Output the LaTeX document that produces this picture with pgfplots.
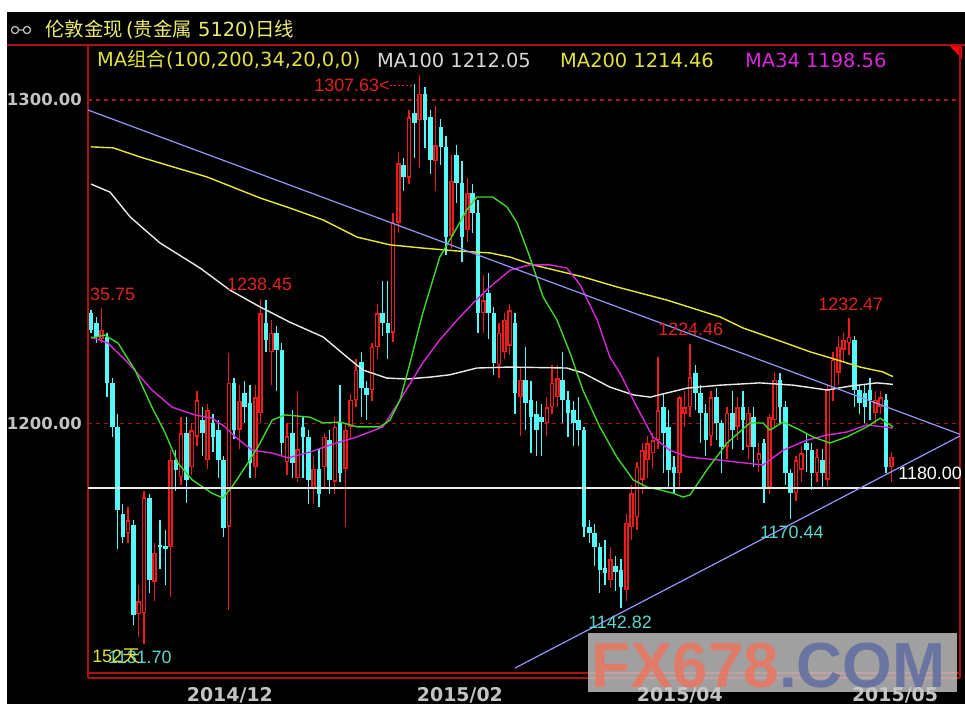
\documentclass[border=0pt]{standalone}
\usepackage{pgfplots}
\usepackage{pgfplotstable}
\pgfplotsset{compat=1.18}
\usepackage{fontspec}
\setmainfont{Liberation Sans}
\newfontfamily\cjk{Noto Sans CJK SC}
\newfontfamily\dv{DejaVu Sans}

\definecolor{framered}{RGB}{170,18,18}
\definecolor{gridred}{RGB}{160,24,24}
\definecolor{upred}{RGB}{240,28,28}
\definecolor{dncyan}{RGB}{84,250,250}
\definecolor{ma100}{RGB}{235,235,235}
\definecolor{ma200}{RGB}{232,232,48}
\definecolor{ma34}{RGB}{215,40,215}
\definecolor{ma20}{RGB}{60,215,40}
\definecolor{trend}{RGB}{150,150,250}
\definecolor{labgray}{RGB}{195,195,195}
\definecolor{txtred}{RGB}{225,35,35}
\definecolor{txtcyan}{RGB}{90,215,205}
\definecolor{hdyellow}{RGB}{235,235,110}
\definecolor{mayellow}{RGB}{225,225,60}
\definecolor{wmgray}{RGB}{200,200,200}
\definecolor{wmred}{RGB}{232,120,100}
\definecolor{wmblue}{RGB}{100,112,160}

\newcommand\hd{\dv\fontsize{19.5}{22}\selectfont}
\newcommand\lab{\fontsize{18}{20}\selectfont}
\newcommand\axf{\dv\bfseries\fontsize{16.5}{18}\selectfont}
\newcommand\xaxf{\dv\bfseries\fontsize{19}{20}\selectfont}
\newcommand\wm{\bfseries\fontsize{64}{64}\selectfont}

% up days (close above open): index open high low close
\pgfplotstableread{
i o h l c
2 1226.0 1235.75 1224.8 1229.0
7 1166.0 1174.0 1163.0 1170.0
9 1141.0 1150.0 1134.0 1145.0
10 1141.3 1179.0 1131.7 1177.2
12 1151.0 1163.0 1145.0 1160.0
15 1161.7 1191.7 1146.3 1188.6
17 1183.4 1202.0 1181.0 1197.0
19 1186.5 1200.0 1184.0 1197.9
20 1195.8 1210.0 1193.0 1207.2
22 1188.6 1206.0 1186.0 1204.0
26 1168.0 1221.7 1142.3 1212.5
28 1198.0 1212.0 1192.0 1207.0
31 1186.5 1212.0 1183.0 1208.1
32 1203.2 1238.45 1200.0 1234.1
34 1222.0 1232.0 1212.0 1228.0
37 1188.0 1200.0 1184.0 1196.0
39 1183.0 1210.0 1182.0 1192.0
42 1180.0 1190.0 1175.0 1186.0
44 1186.5 1197.0 1180.0 1195.8
46 1182.0 1202.0 1178.0 1199.0
48 1186.0 1200.0 1168.0 1198.0
49 1198.9 1209.0 1195.0 1207.2
50 1207.2 1220.0 1205.0 1216.5
53 1210.3 1225.0 1207.0 1223.6
54 1223.6 1237.0 1220.0 1234.1
57 1228.0 1265.0 1225.0 1262.0
58 1262.0 1284.0 1259.0 1280.5
60 1276.0 1297.0 1274.0 1294.7
62 1293.8 1307.63 1279.0 1302.0
65 1281.0 1298.0 1272.0 1286.0
68 1258.0 1283.0 1254.0 1275.0
71 1259.8 1276.0 1256.0 1271.2
74 1234.0 1246.0 1228.0 1238.0
77 1218.0 1231.0 1214.0 1228.0
78 1222.0 1234.0 1220.0 1232.0
79 1224.0 1237.0 1221.0 1235.0
81 1208.1 1217.0 1196.0 1213.4
86 1200.0 1208.0 1196.0 1205.0
87 1205.0 1218.0 1203.0 1212.5
88 1208.0 1218.0 1205.0 1214.0
98 1151.5 1161.7 1149.0 1158.0
101 1148.4 1172.0 1145.0 1169.2
102 1167.9 1181.0 1164.0 1178.4
103 1171.0 1188.0 1167.0 1186.5
104 1182.5 1194.0 1178.0 1191.7
105 1188.6 1196.0 1183.0 1193.9
106 1190.8 1197.0 1186.0 1194.8
107 1194.8 1220.5 1192.0 1204.0
111 1184.6 1208.5 1180.0 1208.1
112 1203.0 1210.0 1199.0 1205.0
113 1205.0 1224.46 1202.0 1214.3
117 1196.0 1210.0 1193.0 1208.0
120 1192.7 1205.0 1189.0 1203.2
122 1198.9 1208.0 1195.0 1205.0
124 1192.7 1205.0 1189.0 1203.2
126 1188.6 1194.0 1185.0 1190.8
128 1180.3 1203.0 1178.0 1201.9
129 1201.0 1216.0 1199.0 1213.4
133 1178.4 1190.0 1176.0 1188.6
134 1185.6 1193.0 1182.0 1190.8
137 1184.6 1192.0 1182.0 1189.6
139 1182.5 1212.0 1180.0 1210.3
140 1210.3 1222.0 1207.0 1219.6
141 1215.6 1227.0 1212.0 1223.6
142 1222.7 1228.0 1219.0 1225.8
143 1224.8 1232.47 1221.0 1226.7
148 1203.2 1210.0 1200.0 1207.2
149 1205.0 1210.0 1203.0 1208.0
151 1186.5 1191.0 1182.0 1189.6
}\up

% down days
\pgfplotstableread{
i o h l c
0 1234.1 1235.0 1228.0 1228.9
1 1231.0 1233.0 1225.0 1226.7
3 1226.7 1228.0 1208.0 1212.5
4 1212.5 1214.0 1195.8 1199.0
5 1199.0 1203.0 1161.0 1173.2
6 1172.0 1175.0 1163.0 1165.0
8 1168.5 1170.0 1137.6 1140.7
11 1177.0 1178.0 1147.5 1151.5
13 1162.4 1170.0 1155.0 1161.7
14 1162.0 1167.0 1150.0 1161.0
16 1188.6 1191.7 1179.0 1185.6
18 1197.0 1202.0 1175.4 1182.5
21 1201.0 1205.0 1190.0 1197.0
23 1200.0 1203.0 1191.0 1195.8
24 1198.0 1201.0 1183.0 1188.6
25 1188.6 1190.0 1164.8 1167.6
27 1212.5 1214.0 1195.0 1197.9
29 1209.4 1213.0 1200.0 1205.0
30 1206.3 1212.0 1183.0 1187.7
33 1231.0 1238.0 1222.0 1225.8
35 1227.9 1230.0 1210.0 1222.7
36 1222.7 1225.0 1190.0 1193.9
38 1197.0 1204.0 1183.0 1187.7
40 1199.0 1202.0 1183.0 1195.8
41 1195.8 1198.0 1175.0 1182.5
43 1186.0 1192.0 1174.0 1178.0
45 1194.8 1198.0 1178.0 1182.5
47 1200.0 1212.0 1182.0 1184.6
51 1219.0 1222.0 1202.0 1211.0
52 1211.0 1213.0 1201.0 1208.7
55 1234.0 1244.0 1227.0 1231.0
56 1231.0 1244.0 1220.0 1227.9
59 1280.0 1282.0 1272.0 1276.2
61 1296.0 1305.0 1282.0 1292.9
63 1302.0 1304.0 1285.0 1293.8
64 1294.7 1297.0 1277.0 1281.4
66 1291.6 1294.0 1280.0 1285.5
67 1285.5 1289.0 1252.0 1257.6
69 1283.0 1286.0 1268.0 1274.3
70 1274.3 1281.0 1250.0 1257.6
72 1271.2 1274.0 1259.0 1265.0
73 1265.0 1269.0 1228.0 1234.1
75 1240.3 1246.5 1226.0 1234.1
76 1234.1 1236.0 1215.0 1218.7
80 1231.0 1234.0 1203.0 1209.4
82 1213.4 1223.6 1198.0 1206.3
83 1207.2 1213.0 1190.8 1201.9
84 1203.0 1207.0 1190.0 1198.0
85 1202.0 1206.0 1190.0 1200.5
89 1213.4 1222.0 1200.0 1207.2
90 1207.2 1210.0 1195.8 1203.2
91 1204.0 1207.0 1193.0 1200.0
92 1201.0 1208.0 1193.0 1197.9
93 1197.9 1199.0 1165.0 1167.9
94 1167.9 1170.0 1163.0 1166.1
95 1166.1 1169.0 1156.0 1161.7
96 1161.7 1163.0 1147.5 1154.6
97 1155.2 1164.0 1150.0 1153.7
99 1156.0 1159.0 1148.0 1154.0
100 1154.6 1158.0 1142.82 1149.4
108 1205.0 1209.0 1184.6 1197.0
109 1198.9 1204.0 1180.0 1185.6
110 1186.5 1190.0 1178.4 1184.6
114 1215.6 1218.0 1204.0 1209.4
115 1209.4 1212.0 1194.0 1203.2
116 1203.2 1206.0 1190.0 1194.8
118 1208.1 1211.0 1194.8 1200.1
119 1200.0 1201.0 1184.6 1192.7
121 1203.2 1210.0 1192.0 1197.9
123 1205.0 1210.0 1191.7 1201.0
125 1201.9 1205.0 1186.5 1192.7
127 1193.9 1195.0 1175.4 1180.3
130 1213.4 1215.6 1200.0 1205.0
131 1205.0 1207.0 1181.0 1184.6
132 1184.6 1186.0 1170.44 1178.4
135 1193.9 1197.0 1185.0 1191.7
136 1191.7 1194.0 1179.4 1184.6
138 1188.6 1192.0 1180.0 1184.6
144 1225.8 1227.0 1205.0 1210.3
145 1210.3 1212.0 1203.0 1206.3
146 1209.4 1212.0 1200.0 1205.0
147 1210.3 1214.0 1201.0 1207.2
150 1207.2 1209.0 1184.6 1186.5
}\dn

\pgfplotsset{
  candle/.style n args={2}{draw=none, mark=none, forget plot,
    error bars/.cd, y dir=both, y explicit, error mark=none,
    error bar style={draw=#1, line width=#2}},
}

\begin{document}
\begin{tikzpicture}
\useasboundingbox (0,0) rectangle (965bp,-704bp);
\clip (0,0) rectangle (965bp,-704bp);

\begin{scope}[x=1bp,y=-1bp]
  \fill[white] (0,0) rectangle (965,704);
  \fill[black] (7,12) rectangle (965,704);
  % link icon
  \draw[labgray, line width=1.2bp] (15,30) circle (3.6) (27,30) circle (3.6) (18.6,30) -- (23.4,30);
  \node[anchor=west, inner sep=0pt, text=hdyellow, font=\hd] at (45,30)
    {{\cjk 伦敦金现}\,({\cjk 贵金属} 5120){\cjk 日线}};
  \draw[framered, line width=1.6bp] (7,45) -- (965,45);
  \node[anchor=west, inner sep=0pt, text=mayellow, font=\hd] at (97,60) {MA{\cjk 组合}(100,200,34,20,0,0)};
  \node[anchor=west, inner sep=0pt, text=ma100!92!black, font=\hd] at (377,60) {MA100 1212.05};
  \node[anchor=west, inner sep=0pt, text=mayellow, font=\hd] at (560,60) {MA200 1214.46};
  \node[anchor=west, inner sep=0pt, text=ma34, font=\hd] at (745,60) {MA34 1198.56};
  \fill[red] (950,46) -- (962,46) -- (962,59) -- cycle;
  \draw[framered, line width=1.6bp] (88,678) -- (960,678) (88,672) -- (88,678) (960,672) -- (960,678);
\end{scope}

\begin{axis}[
  at={(88bp,-673bp)}, anchor=south west,
  scale only axis, width=872bp, height=628bp,
  xmin=-0.566, xmax=163.96, ymin=1122.77, ymax=1317.01,
  clip=false,
  axis line style={draw=framered, line width=1.6bp},
  major tick length=0pt,
  ytick={1200,1300}, yticklabels={1200.00,1300.00},
  xtick={26.2,69.6,111.1,151.7}, xticklabels={2014/12,2015/02,2015/04,2015/05},
  yticklabel style={font=\axf, text=labgray, inner sep=0pt, anchor=east, xshift=-6bp},
  xticklabel style={font=\xaxf, text=labgray, inner sep=0pt, anchor=north, yshift=-14bp},
  ymajorgrids, grid style={draw=gridred, line width=1.2bp, dash pattern=on 4bp off 4bp},
]
% up candles: red hollow
\addplot[candle={upred}{1.3bp}] table[x=i, y expr={(\thisrow{h}+\thisrow{l})/2}, y error expr={(\thisrow{h}-\thisrow{l})/2}] {\up};
\addplot[candle={upred}{4.6bp}] table[x=i, y expr={(\thisrow{o}+\thisrow{c})/2}, y error expr={max((\thisrow{c}-\thisrow{o})/2,0.3)}] {\up};
\addplot[candle={black}{1.6bp}] table[x=i, y expr={(\thisrow{o}+\thisrow{c})/2}, y error expr={max((\thisrow{c}-\thisrow{o})/2-0.45,0)}] {\up};
% down candles: cyan filled
\addplot[candle={dncyan}{1.3bp}] table[x=i, y expr={(\thisrow{h}+\thisrow{l})/2}, y error expr={(\thisrow{h}-\thisrow{l})/2}] {\dn};
\addplot[candle={dncyan}{4.6bp}] table[x=i, y expr={(\thisrow{o}+\thisrow{c})/2}, y error expr={max((\thisrow{o}-\thisrow{c})/2,0.3)}] {\dn};

% moving averages
\addplot[ma100, line width=1.4bp, mark=none] coordinates {(0,1274.0) (3.6,1271.5) (7.4,1263.8) (13,1255.8) (20.6,1248) (26.2,1241.2) (31.9,1236) (37.5,1231.3) (43.8,1226.7) (48.3,1220.5) (51.3,1216.5) (55.8,1214) (59.6,1213.7) (64,1214.3) (67.7,1215) (72.8,1217.1) (79,1217.4) (89.8,1217.1) (92.8,1215.6) (97.9,1211.2) (102.3,1208.8) (105.5,1208.1) (108.7,1209.4) (112.5,1210.9) (118.7,1211.8) (126.2,1212.5) (132.5,1211.8) (138.9,1210.3) (143.2,1211.5) (148.3,1212.5) (151.3,1212.05)};
\addplot[ma200, line width=1.4bp, mark=none] coordinates {(0,1285.5) (4.2,1285.2) (9.2,1282.4) (15.5,1279.3) (21.9,1276.2) (31.9,1269.7) (37.5,1266.6) (43.8,1262.9) (50.2,1257.6) (56.4,1255.2) (62.6,1254.2) (69.1,1253.3) (75.3,1252.7) (79.1,1251.4) (83.4,1249) (92.8,1245.3) (99.2,1242.2) (108.7,1238.1) (118.7,1232.9) (123,1229.5) (129.4,1225.8) (135.7,1222.1) (140.8,1219.6) (145.1,1217.4) (149.4,1215.9) (151.3,1214.46)};
\addplot[ma34, line width=1.4bp, mark=none] coordinates {(0,1226.7) (3.2,1224.8) (7,1218.7) (11.5,1210.3) (15.3,1205) (19.6,1202.6) (22.8,1201.6) (25.3,1198.9) (27.2,1195.8) (30.4,1191.7) (34.2,1190.8) (37.2,1189.3) (41.3,1191.1) (45.1,1193.3) (50.2,1195.8) (55.1,1198.9) (58.3,1207.2) (62.6,1218.7) (65.8,1225.8) (69.1,1232) (72.1,1237.2) (75.3,1242.2) (79.1,1247.4) (82.8,1249) (86.6,1249) (89.8,1248) (92.3,1242.8) (95.5,1232) (97.9,1220.5) (99.8,1215.6) (103,1205) (106,1195.8) (109.2,1191.7) (112.5,1189.6) (118.7,1188.6) (126.8,1187.1) (130.6,1191.7) (135.1,1194.8) (138.9,1196.4) (142.6,1197.3) (146.4,1199.5) (151.3,1198.56)};
\addplot[ma20, line width=1.4bp, mark=none] coordinates {(0,1226.4) (2.6,1227.3) (5.1,1224.8) (8.3,1216.5) (11.5,1205) (14,1197) (16.4,1187.7) (19.1,1182.5) (22.8,1178.4) (24.9,1176.9) (26.6,1180.3) (29.1,1186.5) (31.5,1192.7) (34.2,1201) (36.6,1202.6) (41.3,1201.9) (43.8,1200.1) (47,1200.4) (50.2,1198.9) (54.5,1198.9) (56.4,1201) (58.3,1207.2) (60.2,1218.7) (62.6,1234.1) (65.8,1251.4) (69.1,1260.7) (70.9,1266) (72.8,1270) (75.8,1270) (78.5,1266.9) (80.4,1262) (82.8,1251.4) (85.3,1239.1) (87.9,1232) (90.4,1221.7) (92.8,1210.3) (96,1198.9) (99.2,1189.6) (102.3,1182.5) (104.9,1180.3) (107.4,1179.4) (109.8,1178.4) (111.7,1177.2) (113,1177.8) (116.2,1185.6) (120,1193.9) (124.3,1200.1) (126.8,1200.1) (128.1,1197.9) (130.6,1200.4) (133.8,1197.9) (136.2,1195.8) (139.4,1193.9) (142.6,1195.8) (146.4,1198.9) (148.9,1201.6) (151.3,1198.9)};

% horizontal support and trend lines
\addplot[white!92!black, line width=1.5bp, mark=none] coordinates {(-0.566,1180) (163.96,1180)};
\addplot[trend, line width=1.2bp, mark=none] coordinates {(-0.566,1296.9) (163.96,1196.6)};
\addplot[trend, line width=1.2bp, mark=none] coordinates {(80.0,1124.3) (163.96,1196.1)};

% value annotations
\node[anchor=west, inner sep=0pt, text=txtred, font=\lab] at (axis cs:42.1,1304.6) {1307.63<};
\draw[txtred, line width=0.8bp, dash pattern=on 2bp off 2bp] (axis cs:56.5,1304.6) -- (axis cs:61.0,1304.6);
\node[anchor=west, inner sep=0pt, text=txtred, font=\lab] at (axis cs:-0.19,1239.8) {35.75};
\node[anchor=west, inner sep=0pt, text=txtred, font=\lab] at (axis cs:25.66,1242.9) {1238.45};
\node[anchor=west, inner sep=0pt, text=txtred, font=\lab] at (axis cs:107.0,1229.2) {1224.46};
\node[anchor=west, inner sep=0pt, text=txtred, font=\lab] at (axis cs:137.2,1236.9) {1232.47};
\node[anchor=west, inner sep=0pt, text=txtcyan, font=\lab] at (axis cs:93.8,1138.5) {1142.82};
\node[anchor=west, inner sep=0pt, text=txtcyan, font=\lab] at (axis cs:126.2,1166.4) {1170.44};
\node[anchor=west, inner sep=0pt, text=txtcyan, font=\lab] at (axis cs:3.2,1127.5) {1131.70};
\node[anchor=west, inner sep=0pt, text=mayellow, font=\lab] at (axis cs:0.2,1127.8) {152{\cjk 天}};
\node[anchor=west, inner sep=0pt, text=white, font=\lab] at (axis cs:152.3,1184.5) {1180.00};
\end{axis}

% watermark
\begin{scope}[x=1bp,y=-1bp]
  \fill[wmgray, fill opacity=0.8] (588,633) rectangle (957,692);
  \node[anchor=base west, inner sep=0pt, font=\wm, text opacity=0.9] at (591,687)
    {\textcolor{wmred}{FX678}\textcolor{wmblue}{.COM}};
\end{scope}
\end{tikzpicture}
\end{document}
